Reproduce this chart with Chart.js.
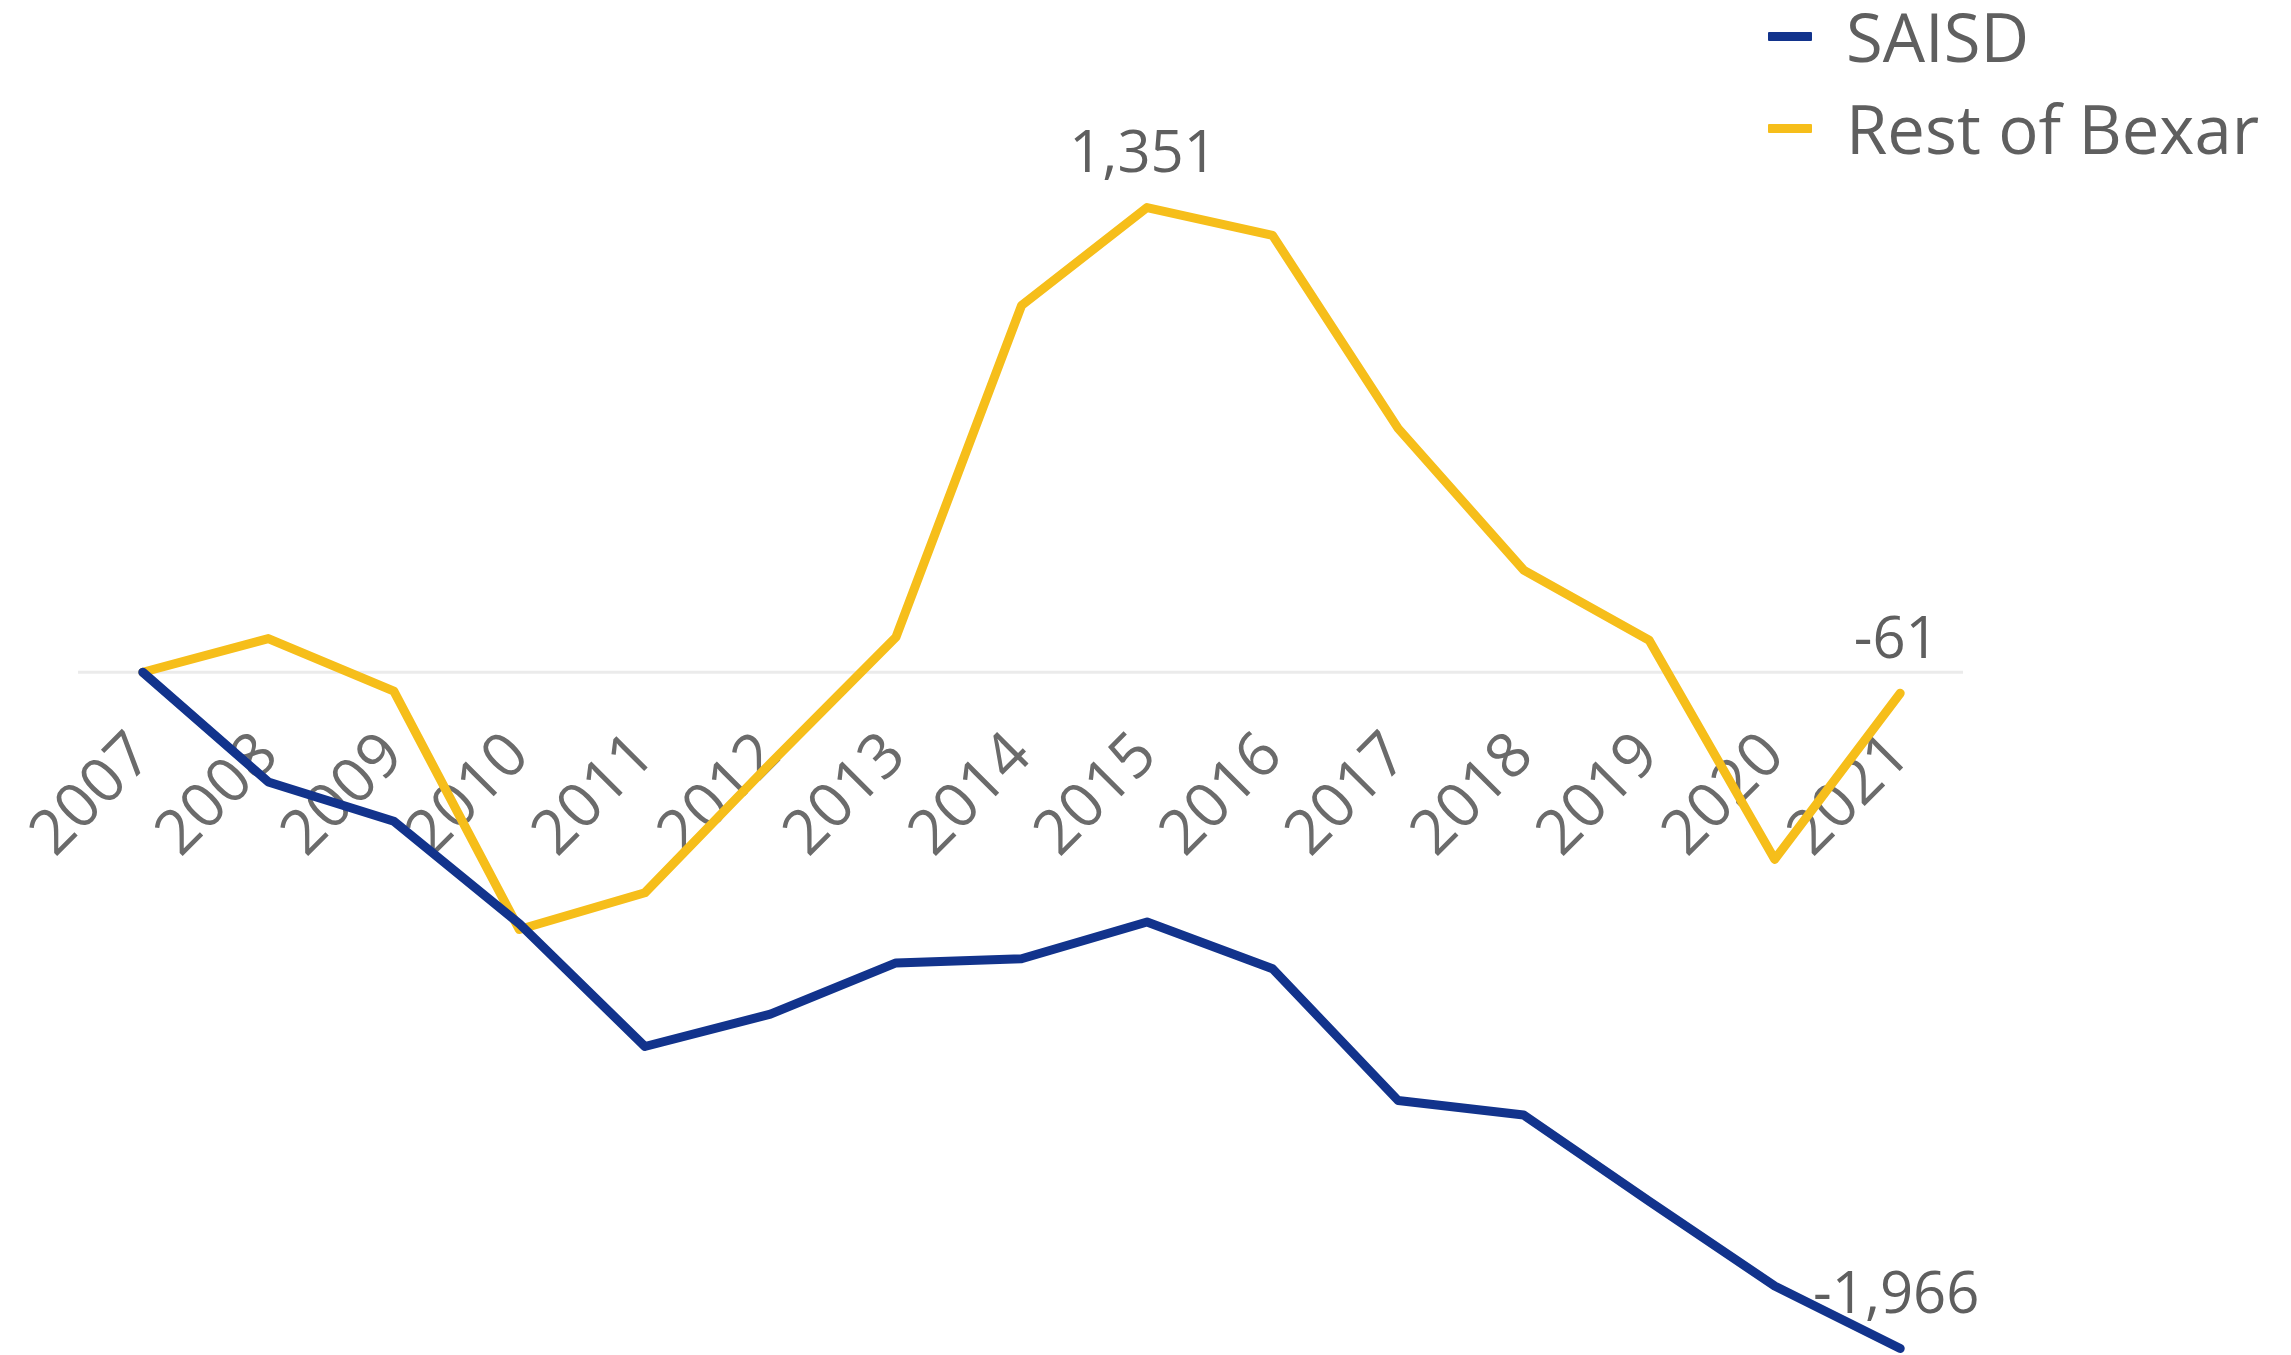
<!DOCTYPE html>
<html>
<head>
<meta charset="utf-8">
<script src="https://cdn.jsdelivr.net/npm/chart.js@4.4.1/dist/chart.umd.min.js"></script>
<style>
  html, body { margin:0; padding:0; background:#fff; }
  #wrap { position:relative; width:2291px; height:1355px; }
  .legend { position:absolute; left:1768px; top:0; font-family:'Open Sans', sans-serif; font-size:67px; color:#5f5f5f; }
  .legend .row { position:absolute; left:0; display:flex; align-items:center; white-space:nowrap; height:80px; }
  .legend .sw { width:44px; height:9px; border-radius:1px; margin-right:34px; }
</style>
</head>
<body>
<div id="wrap">
  <canvas id="chart" width="2291" height="1355"></canvas>
  <div class="legend" id="legend"></div>
</div>
<script>
// Enrollment change vs 2007
const years = ['2007','2008','2009','2010','2011','2012','2013','2014','2015','2016','2017','2018','2019','2020','2021']
const saisd = [0, -319, -433, -731, -1088, -994, -845, -833, -726, -862, -1245, -1287, -1538, -1784, -1966]
const restOfBexar = [0, 98, -55, -748, -641, -265, 102, 1066, 1351, 1270, 709, 297, 93, -544, -61]

const seriesNames = ['SAISD', 'Rest of Bexar']
const seriesColors = ['#12338c', '#f6be1a']

// points that get a value label: [series, index]
const labelled = [[1, 8], [1, 14], [0, 14]]

const textGrey = '#5f5f5f'
const font = "'Open Sans', sans-serif"

// light rule along y = 0, under the lines
const zeroLine = {
  id: 'zeroLine',
  beforeDatasetsDraw(chart) {
    const { ctx, chartArea, scales } = chart
    const y = scales.y.getPixelForValue(0)
    ctx.save()
    ctx.strokeStyle = '#ebebeb'
    ctx.lineWidth = 3
    ctx.beginPath()
    ctx.moveTo(chartArea.left - 2, y)
    ctx.lineTo(chartArea.right, y)
    ctx.stroke()
    ctx.restore()
  }
}

const valueLabels = {
  id: 'valueLabels',
  afterDatasetsDraw(chart) {
    const ctx = chart.ctx
    ctx.save()
    ctx.font = '58px ' + font
    ctx.fillStyle = textGrey
    ctx.textAlign = 'center'
    ctx.textBaseline = 'middle'
    labelled.forEach(([s, i]) => {
      const pt = chart.getDatasetMeta(s).data[i]
      const v = chart.data.datasets[s].data[i]
      ctx.fillText(v.toLocaleString('en-US'), pt.x - 4, pt.y - 52)
    })
    ctx.restore()
  }
}

new Chart(document.getElementById('chart'), {
  type: 'line',
  data: {
    labels: years,
    datasets: [
      { label: seriesNames[0], data: saisd, borderColor: seriesColors[0], backgroundColor: seriesColors[0],
        borderWidth: 9, pointRadius: 0, tension: 0, borderJoinStyle: 'round', borderCapStyle: 'round' },
      { label: seriesNames[1], data: restOfBexar, borderColor: seriesColors[1], backgroundColor: seriesColors[1],
        borderWidth: 9, pointRadius: 0, tension: 0, borderJoinStyle: 'round', borderCapStyle: 'round' },
    ]
  },
  options: {
    responsive: false,
    animation: false,
    devicePixelRatio: 1,
    clip: false,
    layout: { padding: { left: 80, right: 328, top: 40, bottom: 2 } },
    plugins: { legend: { display: false }, tooltip: { enabled: false } },
    scales: {
      y: {
        display: false,
        min: -1979, max: 1838
      },
      x: {
        position: { y: 0 },
        offset: true,
        z: 1,
        // labels hang over the lines, so the axis takes no room of its own
        afterFit: s => { s.height = 0; s.paddingLeft = 0; s.paddingRight = 0 },
        grid: { display: false, drawTicks: false },
        border: { display: false },
        ticks: { autoSkip: false, minRotation: 45, maxRotation: 45, padding: 47,
          color: '#6b6b6b', font: { family: font, size: 62 } }
      }
    }
  },
  plugins: [zeroLine, valueLabels]
})

// legend, stacked top-right
const legend = document.getElementById('legend')
seriesNames.forEach((name, i) => {
  const row = document.createElement('div')
  row.className = 'row'
  row.style.top = (i * 92 - 4) + 'px'
  row.innerHTML = '<span class="sw" style="background:' + seriesColors[i] + '"></span><span>' + name + '</span>'
  legend.appendChild(row)
})
</script>
</body>
</html>
